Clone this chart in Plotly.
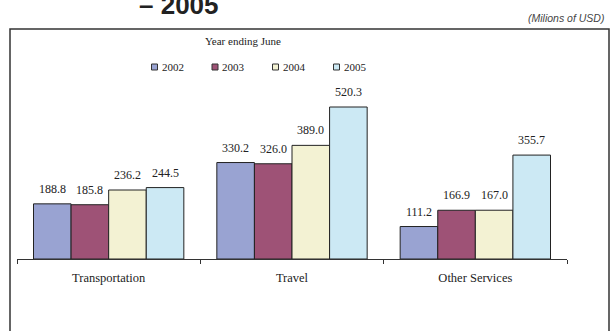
import plotly.graph_objects as go

# Services exports by category, year ending June (millions of USD)
categories = ["Transportation", "Travel", "Other Services"]
years = ["2002", "2003", "2004", "2005"]
values_2002 = [188.8, 330.2, 111.2]
values_2003 = [185.8, 326.0, 166.9]
values_2004 = [236.2, 389.0, 167.0]
values_2005 = [244.5, 520.3, 355.7]
series = [values_2002, values_2003, values_2004, values_2005]
colors = ["#99a3d2", "#9e5276", "#f3f2d3", "#cce9f4"]

W, H = 611, 331
BARGAP = 0.18
SERIF = "Liberation Serif, Times New Roman, serif"
SANS = "Liberation Sans, Arial, sans-serif"

fig = go.Figure()
xpos = list(range(len(categories)))
for name, vals, col in zip(years, series, colors):
    fig.add_trace(go.Bar(
        x=xpos, y=vals, name=name, marker_color=col,
        marker_line=dict(color="#222222", width=1), showlegend=False,
    ))

# value labels above each bar
bw = (1 - BARGAP) / len(years)
annotations = []
for j, vals in enumerate(series):
    off = (j - (len(years) - 1) / 2) * bw
    for i, v in enumerate(vals):
        annotations.append(dict(
            x=i + off, y=v, xref="x", yref="y", text=f"{v:.1f}",
            showarrow=False, xanchor="center", yanchor="bottom", yshift=6,
            font=dict(family=SERIF, size=12, color="#222222"),
        ))

# legend title and keys
annotations.append(dict(x=243 / W, y=1 - 41 / H, xref="paper", yref="paper",
                        text="Year ending June", showarrow=False,
                        xanchor="center", yanchor="middle",
                        font=dict(family=SERIF, size=11, color="#222222")))
shapes = []
key_x = [154.5, 215, 275.5, 336.5]
for kx, name, col in zip(key_x, years, colors):
    shapes.append(dict(type="rect", xref="paper", yref="paper",
                       x0=(kx - 3) / W, x1=(kx + 3) / W,
                       y0=1 - 70 / H, y1=1 - 64 / H,
                       fillcolor=col, line=dict(color="#333333", width=1)))
    annotations.append(dict(x=(kx + 5) / W, y=1 - 67 / H, xref="paper", yref="paper",
                            text=name, showarrow=False,
                            xanchor="left", yanchor="middle",
                            font=dict(family=SERIF, size=11, color="#222222")))

# outer frame
shapes.append(dict(type="rect", xref="paper", yref="paper",
                   x0=10 / W, x1=609 / W, y0=-0.2, y1=1 - 29 / H,
                   line=dict(color="#333333", width=1.5), fillcolor="rgba(0,0,0,0)"))

# unit note and heading
annotations.append(dict(x=606 / W, y=1 - 18 / H, xref="paper", yref="paper",
                        text="<i>(Milions of USD)</i>", showarrow=False,
                        xanchor="right", yanchor="middle",
                        font=dict(family=SANS, size=10.5, color="#444444")))
annotations.append(dict(x=179 / W, y=1 - 22 / H, xref="paper", yref="paper",
                        text="<b>– 2005</b>", showarrow=False,
                        xanchor="center", yanchor="bottom",
                        font=dict(family=SANS, size=26, color="#222222")))

fig.update_layout(
    width=W, height=H, autosize=False,
    margin=dict(l=0, r=0, t=0, b=0),
    paper_bgcolor="white", plot_bgcolor="white",
    barmode="group", bargap=BARGAP, bargroupgap=0,
    annotations=annotations, shapes=shapes,
    xaxis=dict(
        domain=[17 / W, 567 / W], range=[-0.5, len(categories) - 0.5],
        tickvals=xpos, ticktext=categories, ticks="", showgrid=False,
        zeroline=False, showline=True, linecolor="#333333", linewidth=1,
        tickfont=dict(family=SERIF, size=12.5, color="#222222"),
        ticklabelstandoff=7,
        minor=dict(tick0=-0.5, dtick=1, ticks="outside", ticklen=4,
                   tickcolor="#333333", tickwidth=1, showgrid=False),
    ),
    yaxis=dict(
        domain=[1 - 259 / H, 1 - 96 / H], range=[0, 558],
        visible=False, showgrid=False, zeroline=False,
    ),
)

fig.write_html("out.html")
